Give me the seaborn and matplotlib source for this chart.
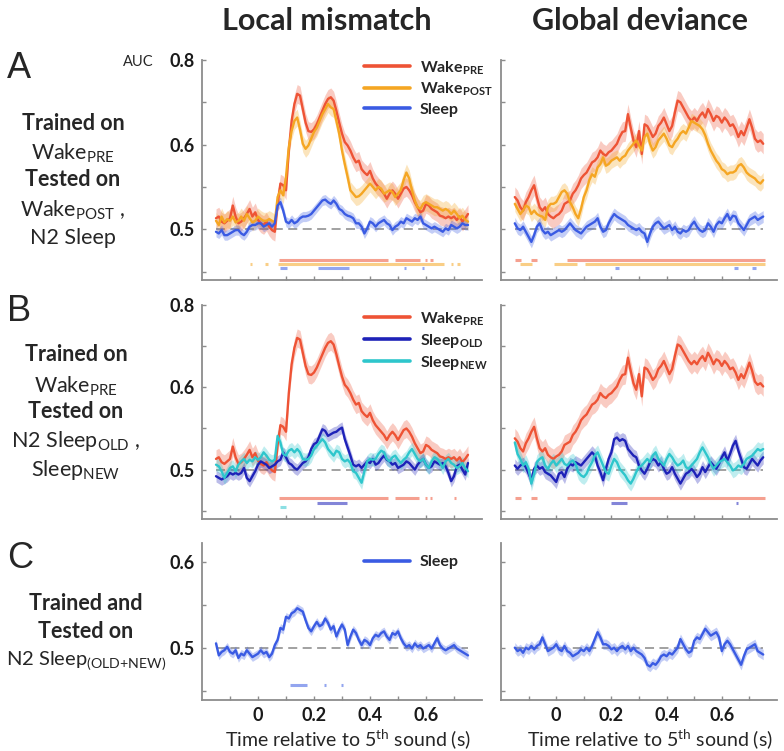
import numpy as np
import matplotlib
matplotlib.use("Agg")
import matplotlib.pyplot as plt
import seaborn as sns

# ---------------- data ----------------
TIME = np.round(np.arange(-0.15, 0.7501, 0.01), 2)

LOCAL_WAKE_PRE = [
    0.513, 0.515, 0.509, 0.507, 0.510, 0.513, 0.528, 0.515, 0.507, 0.509,
    0.513, 0.518, 0.524, 0.515, 0.520,
    0.511, 0.507, 0.505, 0.509, 0.503, 0.499, 0.497, 0.530, 0.554, 0.552,
    0.546, 0.593, 0.628, 0.648, 0.660, 0.658, 0.642, 0.626, 0.616, 0.615,
    0.618, 0.624, 0.632, 0.640, 0.648, 0.654, 0.656, 0.652, 0.640, 0.626,
    0.613, 0.603, 0.599, 0.593, 0.585, 0.579, 0.581, 0.571, 0.567, 0.564,
    0.569, 0.560, 0.554, 0.550, 0.546, 0.542, 0.536, 0.542, 0.546, 0.542,
    0.536, 0.542, 0.548, 0.550, 0.546, 0.540, 0.532, 0.526, 0.520, 0.522,
    0.530, 0.528, 0.524, 0.522, 0.520, 0.516, 0.515, 0.513, 0.515, 0.513,
    0.515, 0.511, 0.515, 0.509, 0.513, 0.518]

LOCAL_WAKE_POST = [
    0.510, 0.505, 0.515, 0.508, 0.512, 0.510, 0.515, 0.508, 0.510, 0.515,
    0.510, 0.518, 0.513, 0.508, 0.510,
    0.515, 0.512, 0.510, 0.510, 0.512, 0.510, 0.508, 0.538, 0.546, 0.540,
    0.562, 0.597, 0.616, 0.628, 0.632, 0.618, 0.601, 0.595, 0.599, 0.607,
    0.615, 0.620, 0.628, 0.636, 0.642, 0.648, 0.644, 0.642, 0.628, 0.613,
    0.593, 0.577, 0.562, 0.546, 0.542, 0.538, 0.539, 0.542, 0.546, 0.550,
    0.554, 0.550, 0.546, 0.550, 0.548, 0.542, 0.544, 0.546, 0.544, 0.538,
    0.542, 0.546, 0.558, 0.567, 0.560, 0.546, 0.534, 0.526, 0.524, 0.530,
    0.532, 0.530, 0.528, 0.526, 0.526, 0.524, 0.522, 0.524, 0.522, 0.518,
    0.522, 0.518, 0.513, 0.516, 0.511, 0.509]

LOCAL_SLEEP = [
    0.497, 0.495, 0.499, 0.493, 0.493, 0.495, 0.497, 0.499, 0.499, 0.495,
    0.493, 0.497, 0.503, 0.505, 0.505,
    0.507, 0.507, 0.503, 0.505, 0.507, 0.503, 0.507, 0.528, 0.532, 0.522,
    0.509, 0.507, 0.511, 0.507, 0.509, 0.513, 0.515, 0.515, 0.516, 0.518,
    0.522, 0.526, 0.530, 0.534, 0.535, 0.532, 0.530, 0.534, 0.530, 0.524,
    0.522, 0.518, 0.516, 0.515, 0.513, 0.507, 0.507, 0.503, 0.495, 0.501,
    0.509, 0.507, 0.503, 0.507, 0.509, 0.511, 0.507, 0.505, 0.499, 0.503,
    0.505, 0.509, 0.507, 0.513, 0.511, 0.509, 0.513, 0.511, 0.515, 0.507,
    0.505, 0.503, 0.501, 0.503, 0.501, 0.499, 0.497, 0.501, 0.499, 0.505,
    0.503, 0.501, 0.503, 0.507, 0.505, 0.505]

GLOBAL_WAKE_PRE = [
    0.538, 0.534, 0.526, 0.522, 0.532, 0.538, 0.546, 0.552, 0.538, 0.526,
    0.522, 0.526, 0.518, 0.515, 0.513,
    0.516, 0.518, 0.522, 0.530, 0.532, 0.534, 0.542, 0.546, 0.552, 0.560,
    0.564, 0.567, 0.573, 0.579, 0.581, 0.585, 0.593, 0.589, 0.587, 0.591,
    0.593, 0.597, 0.601, 0.609, 0.615, 0.616, 0.636, 0.620, 0.605, 0.597,
    0.616, 0.589, 0.624, 0.622, 0.616, 0.609, 0.613, 0.622, 0.626, 0.632,
    0.624, 0.616, 0.622, 0.638, 0.652, 0.650, 0.644, 0.638, 0.632, 0.628,
    0.632, 0.628, 0.634, 0.638, 0.632, 0.642, 0.636, 0.628, 0.634, 0.632,
    0.626, 0.632, 0.628, 0.622, 0.624, 0.618, 0.609, 0.616, 0.611, 0.620,
    0.630, 0.620, 0.607, 0.603, 0.605, 0.601]

GLOBAL_WAKE_POST = [
    0.530, 0.524, 0.518, 0.522, 0.528, 0.526, 0.518, 0.522, 0.518, 0.516,
    0.515, 0.511, 0.526, 0.530, 0.530,
    0.532, 0.538, 0.544, 0.546, 0.542, 0.532, 0.526, 0.518, 0.513, 0.524,
    0.538, 0.546, 0.558, 0.565, 0.562, 0.573, 0.577, 0.585, 0.575, 0.577,
    0.581, 0.583, 0.585, 0.581, 0.585, 0.587, 0.593, 0.597, 0.601, 0.605,
    0.599, 0.593, 0.609, 0.613, 0.601, 0.593, 0.597, 0.605, 0.609, 0.613,
    0.607, 0.599, 0.597, 0.603, 0.607, 0.613, 0.616, 0.613, 0.620, 0.628,
    0.626, 0.624, 0.622, 0.618, 0.611, 0.601, 0.593, 0.587, 0.581, 0.577,
    0.571, 0.569, 0.565, 0.567, 0.567, 0.569, 0.575, 0.577, 0.573, 0.567,
    0.564, 0.562, 0.560, 0.556, 0.554, 0.558]

GLOBAL_SLEEP = [
    0.507, 0.501, 0.499, 0.503, 0.497, 0.491, 0.485, 0.493, 0.503, 0.507,
    0.499, 0.495, 0.497, 0.493, 0.495,
    0.497, 0.499, 0.497, 0.499, 0.503, 0.507, 0.503, 0.499, 0.497, 0.495,
    0.499, 0.503, 0.505, 0.507, 0.509, 0.513, 0.503, 0.497, 0.499, 0.507,
    0.513, 0.518, 0.515, 0.513, 0.511, 0.509, 0.505, 0.503, 0.501, 0.499,
    0.501, 0.497, 0.495, 0.485, 0.495, 0.503, 0.507, 0.509, 0.505, 0.501,
    0.503, 0.505, 0.499, 0.503, 0.497, 0.495, 0.499, 0.497, 0.499, 0.505,
    0.509, 0.503, 0.499, 0.497, 0.499, 0.507, 0.503, 0.497, 0.505, 0.509,
    0.507, 0.513, 0.518, 0.511, 0.516, 0.515, 0.507, 0.503, 0.499, 0.505,
    0.511, 0.513, 0.515, 0.511, 0.513, 0.515]

LOCAL_SLEEP_OLD = [
    0.492, 0.490, 0.488, 0.490, 0.492, 0.496, 0.494, 0.496, 0.494, 0.496,
    0.502, 0.490, 0.486, 0.492, 0.498,
    0.506, 0.510, 0.508, 0.506, 0.502, 0.504, 0.506, 0.510, 0.512, 0.521,
    0.515, 0.508, 0.506, 0.502, 0.500, 0.504, 0.508, 0.510, 0.515, 0.525,
    0.531, 0.533, 0.541, 0.549, 0.547, 0.541, 0.543, 0.545, 0.546, 0.549,
    0.551, 0.537, 0.527, 0.517, 0.506, 0.504, 0.506, 0.502, 0.506, 0.510,
    0.508, 0.513, 0.506, 0.508, 0.513, 0.517, 0.512, 0.510, 0.506, 0.508,
    0.502, 0.504, 0.506, 0.510, 0.508, 0.504, 0.500, 0.506, 0.510, 0.513,
    0.506, 0.502, 0.504, 0.510, 0.508, 0.506, 0.508, 0.504, 0.496, 0.486,
    0.492, 0.504, 0.506, 0.500, 0.494, 0.508]

LOCAL_SLEEP_NEW = [
    0.506, 0.504, 0.498, 0.490, 0.496, 0.502, 0.504, 0.498, 0.506, 0.510,
    0.513, 0.508, 0.512, 0.510, 0.515,
    0.512, 0.515, 0.521, 0.517, 0.512, 0.510, 0.512, 0.541, 0.533, 0.519,
    0.517, 0.523, 0.525, 0.521, 0.525, 0.521, 0.513, 0.512, 0.513, 0.517,
    0.525, 0.529, 0.533, 0.537, 0.533, 0.525, 0.521, 0.517, 0.523, 0.521,
    0.513, 0.510, 0.512, 0.508, 0.498, 0.496, 0.490, 0.484, 0.498, 0.510,
    0.513, 0.512, 0.513, 0.519, 0.523, 0.521, 0.513, 0.510, 0.515, 0.517,
    0.512, 0.508, 0.512, 0.515, 0.521, 0.525, 0.519, 0.513, 0.510, 0.513,
    0.506, 0.502, 0.510, 0.515, 0.513, 0.508, 0.502, 0.510, 0.513, 0.508,
    0.506, 0.502, 0.504, 0.508, 0.502, 0.498]

GLOBAL_SLEEP_OLD = [
    0.505, 0.501, 0.505, 0.507, 0.503, 0.495, 0.487, 0.501, 0.505, 0.501,
    0.503, 0.497, 0.495, 0.493, 0.489,
    0.485, 0.495, 0.497, 0.491, 0.501, 0.507, 0.505, 0.509, 0.507, 0.505,
    0.509, 0.513, 0.517, 0.521, 0.517, 0.505, 0.497, 0.487, 0.501, 0.513,
    0.521, 0.537, 0.539, 0.535, 0.537, 0.535, 0.525, 0.521, 0.517, 0.515,
    0.505, 0.499, 0.495, 0.501, 0.509, 0.513, 0.511, 0.505, 0.509, 0.501,
    0.495, 0.497, 0.503, 0.495, 0.489, 0.483, 0.489, 0.495, 0.497, 0.501,
    0.497, 0.491, 0.495, 0.503, 0.497, 0.503, 0.509, 0.505, 0.501, 0.507,
    0.515, 0.521, 0.511, 0.519, 0.529, 0.535, 0.523, 0.513, 0.503, 0.501,
    0.507, 0.513, 0.509, 0.505, 0.511, 0.515]

GLOBAL_SLEEP_NEW = [
    0.533, 0.519, 0.513, 0.505, 0.509, 0.501, 0.483, 0.495, 0.509, 0.513,
    0.515, 0.505, 0.501, 0.507, 0.511,
    0.505, 0.509, 0.513, 0.507, 0.505, 0.509, 0.511, 0.507, 0.497, 0.493,
    0.491, 0.495, 0.503, 0.509, 0.517, 0.521, 0.513, 0.505, 0.497, 0.495,
    0.505, 0.513, 0.509, 0.501, 0.497, 0.493, 0.487, 0.483, 0.489, 0.497,
    0.503, 0.505, 0.509, 0.513, 0.509, 0.517, 0.521, 0.513, 0.509, 0.505,
    0.513, 0.519, 0.515, 0.509, 0.505, 0.507, 0.511, 0.503, 0.501, 0.505,
    0.509, 0.513, 0.521, 0.527, 0.521, 0.515, 0.507, 0.501, 0.505, 0.509,
    0.511, 0.513, 0.509, 0.505, 0.499, 0.501, 0.505, 0.503, 0.507, 0.513,
    0.515, 0.517, 0.521, 0.525, 0.523, 0.525]

LOCAL_SLEEP_ALL = [
    0.505, 0.491, 0.495, 0.497, 0.501, 0.495, 0.493, 0.497, 0.488, 0.493,
    0.491, 0.497, 0.493, 0.489, 0.491,
    0.493, 0.497, 0.493, 0.495, 0.489, 0.493, 0.503, 0.509, 0.523, 0.521,
    0.536, 0.534, 0.540, 0.542, 0.546, 0.544, 0.542, 0.532, 0.523, 0.519,
    0.525, 0.530, 0.525, 0.527, 0.534, 0.529, 0.521, 0.525, 0.513, 0.521,
    0.527, 0.521, 0.503, 0.513, 0.521, 0.517, 0.509, 0.503, 0.509, 0.507,
    0.503, 0.511, 0.515, 0.513, 0.517, 0.519, 0.513, 0.509, 0.517, 0.515,
    0.519, 0.511, 0.505, 0.501, 0.503, 0.499, 0.505, 0.501, 0.503, 0.499,
    0.501, 0.503, 0.499, 0.505, 0.511, 0.503, 0.499, 0.497, 0.499, 0.501,
    0.503, 0.499, 0.497, 0.495, 0.493, 0.491]

GLOBAL_SLEEP_ALL = [
    0.500, 0.496, 0.498, 0.494, 0.500, 0.498, 0.502, 0.498, 0.502, 0.504,
    0.512, 0.504, 0.496, 0.498, 0.500,
    0.504, 0.498, 0.496, 0.502, 0.496, 0.494, 0.490, 0.492, 0.494, 0.498,
    0.496, 0.500, 0.496, 0.502, 0.510, 0.518, 0.512, 0.504, 0.504, 0.502,
    0.498, 0.500, 0.496, 0.500, 0.502, 0.498, 0.502, 0.496, 0.500, 0.496,
    0.494, 0.492, 0.488, 0.480, 0.478, 0.482, 0.480, 0.484, 0.490, 0.492,
    0.490, 0.494, 0.492, 0.496, 0.500, 0.510, 0.504, 0.498, 0.494, 0.496,
    0.508, 0.512, 0.510, 0.516, 0.522, 0.518, 0.514, 0.516, 0.518, 0.512,
    0.496, 0.504, 0.508, 0.504, 0.498, 0.492, 0.486, 0.480, 0.490, 0.498,
    0.500, 0.502, 0.504, 0.496, 0.494, 0.492]

# standard error (half-width of the shaded band)
SEM = {
    "local_pre": 0.011, "local_post": 0.010, "local_sleep": 0.006,
    "global_pre": 0.012, "global_post": 0.009, "global_sleep": 0.007,
    "local_old": 0.007, "local_new": 0.008,
    "global_old": 0.008, "global_new": 0.009,
    "local_all": 0.005, "global_all": 0.006,
}

# significant time windows (s)
SIG_A_L_PRE = [(0.074, 0.464), (0.488, 0.578), (0.596, 0.604), (0.616, 0.624)]
SIG_A_L_POST = [(-0.028, -0.020), (0.026, 0.034), (0.070, 0.665), (0.688, 0.696), (0.712, 0.720)]
SIG_A_L_SLEEP = [(0.078, 0.104), (0.216, 0.326), (0.520, 0.528), (0.584, 0.592)]
SIG_A_R_PRE = [(-0.150, -0.126), (-0.090, -0.068), (0.040, 0.757)]
SIG_A_R_POST = [(-0.131, -0.086), (-0.009, 0.076), (0.105, 0.757)]
SIG_A_R_SLEEP = [(0.213, 0.229), (0.645, 0.657), (0.709, 0.724)]
SIG_B_L_PRE = [(0.074, 0.464), (0.490, 0.575), (0.596, 0.604), (0.614, 0.622), (0.700, 0.708)]
SIG_B_L_OLD = [(0.210, 0.318)]
SIG_B_L_NEW = [(0.077, 0.100)]
SIG_B_R_PRE = [(-0.150, -0.126), (-0.090, -0.068), (0.040, 0.757)]
SIG_B_R_OLD = [(0.200, 0.256), (0.650, 0.658)]
SIG_C_L_ALL = [(0.113, 0.176), (0.236, 0.244), (0.296, 0.304)]

LBL_PRE = r"Wake$_{\mathregular{PRE}}$"
LBL_POST = r"Wake$_{\mathregular{POST}}$"
LBL_SLEEP = "Sleep"
LBL_OLD = r"Sleep$_{\mathregular{OLD}}$"
LBL_NEW = r"Sleep$_{\mathregular{NEW}}$"
LBL_ALL = r"N2 Sleep$_{\mathregular{(OLD{+}NEW)}}$"

YTICKS_AB = [0.7, 0.6, 0.5]
YTICKLABELS_AB = ["0.8", "0.6", "0.5"]
YTICKS_C = [0.6, 0.5]
YTICKLABELS_C = ["0.6", "0.5"]
XTICKS = [-0.1, 0.0, 0.1, 0.2, 0.3, 0.4, 0.5, 0.6, 0.7]
XTICKLABELS = ["", "0", "", "0.2", "", "0.4", "", "0.6", ""]

COL_TITLES = ["Local mismatch", "Global deviance"]
XLABEL = r"Time relative to 5$^{\mathregular{th}}$ sound (s)"

# ---------------- style ----------------
sns.set_theme(style="ticks")
plt.rcParams["font.family"] = ["Lato", "DejaVu Sans"]

C_PRE = "#EE5335"
C_POST = "#F5A623"
C_SLEEP = "#3A5BE3"
C_OLD = "#1E22B8"
C_NEW = "#2EC6CC"
GREY = "#8C8C8C"

W, H = 784, 751
fig = plt.figure(figsize=(W / 100, H / 100), dpi=100)


def ax_at(x0, y0, x1, y1):
    return fig.add_axes([x0 / W, 1 - y1 / H, (x1 - x0) / W, (y1 - y0) / H])


def ftext(x, y, s, **kw):
    fig.text(x / W, 1 - y / H, s, **kw)


ax_AL = ax_at(202, 60, 482, 280)
ax_AR = ax_at(501, 60, 777, 280)
ax_BL = ax_at(202, 305, 482, 519)
ax_BR = ax_at(501, 305, 777, 519)
ax_CL = ax_at(202, 543, 482, 700)
ax_CR = ax_at(501, 543, 777, 700)


def draw(ax, series, sigs, sig_levels, ylim, yticks, yticklabels, minor, show_y, show_x):
    ax.hlines(0.5, TIME[0], TIME[-1], colors="#9a9a9a", linestyles=(0, (5, 3)), lw=1.3, zorder=1)
    for vals, sem, col, lab in series:
        v = np.asarray(vals)
        ax.fill_between(TIME, v - sem, v + sem, color=col, alpha=0.3, lw=0, zorder=2)
        sns.lineplot(x=TIME, y=v, ax=ax, color=col, lw=1.7, label=lab, zorder=3)
    for segs, lvl, col in zip(sigs, sig_levels, [s[2] for s in series]):
        for a, b in segs:
            ax.plot([a, b], [lvl, lvl], color=col, lw=2.2, alpha=0.55,
                    solid_capstyle="butt", zorder=2)
    ax.set_xlim(-0.2, 0.8)
    ax.set_ylim(*ylim)
    sns.despine(ax=ax)
    for s in ["left", "bottom"]:
        ax.spines[s].set_color(GREY)
        ax.spines[s].set_linewidth(1.3)
    ax.set_yticks(yticks + minor)
    ax.set_yticklabels(yticklabels + [""] * len(minor) if show_y else [])
    ax.set_xticks(XTICKS)
    ax.set_xticklabels(XTICKLABELS if show_x else [])
    ax.tick_params(direction="in", length=3, width=1, color=GREY,
                   labelsize=13, pad=5, labelcolor="#1a1a1a")
    for t in ax.get_xticklabels() + ax.get_yticklabels():
        t.set_fontweight("bold")
    ax.set_xlabel("")
    ax.set_ylabel("")
    leg = ax.get_legend()
    if leg is not None:
        leg.remove()


YL_AB = (0.44, 0.70)
YL_C = (0.439, 0.622)
MIN_AB = [0.65, 0.55, 0.45]
MIN_C = [0.55, 0.45]

draw(ax_AL,
     [(LOCAL_WAKE_PRE, SEM["local_pre"], C_PRE, LBL_PRE),
      (LOCAL_WAKE_POST, SEM["local_post"], C_POST, LBL_POST),
      (LOCAL_SLEEP, SEM["local_sleep"], C_SLEEP, LBL_SLEEP)],
     [SIG_A_L_PRE, SIG_A_L_POST, SIG_A_L_SLEEP], [0.464, 0.4590, 0.4538],
     YL_AB, YTICKS_AB, YTICKLABELS_AB, MIN_AB, True, False)
draw(ax_AR,
     [(GLOBAL_WAKE_PRE, SEM["global_pre"], C_PRE, None),
      (GLOBAL_WAKE_POST, SEM["global_post"], C_POST, None),
      (GLOBAL_SLEEP, SEM["global_sleep"], C_SLEEP, None)],
     [SIG_A_R_PRE, SIG_A_R_POST, SIG_A_R_SLEEP], [0.464, 0.4590, 0.4538],
     YL_AB, YTICKS_AB, YTICKLABELS_AB, MIN_AB, False, False)
draw(ax_BL,
     [(LOCAL_WAKE_PRE, SEM["local_pre"], C_PRE, LBL_PRE),
      (LOCAL_SLEEP_OLD, SEM["local_old"], C_OLD, LBL_OLD),
      (LOCAL_SLEEP_NEW, SEM["local_new"], C_NEW, LBL_NEW)],
     [SIG_B_L_PRE, SIG_B_L_OLD, SIG_B_L_NEW], [0.465, 0.460, 0.455],
     YL_AB, YTICKS_AB, YTICKLABELS_AB, MIN_AB, True, False)
draw(ax_BR,
     [(GLOBAL_WAKE_PRE, SEM["global_pre"], C_PRE, None),
      (GLOBAL_SLEEP_OLD, SEM["global_old"], C_OLD, None),
      (GLOBAL_SLEEP_NEW, SEM["global_new"], C_NEW, None)],
     [SIG_B_R_PRE, SIG_B_R_OLD, []], [0.465, 0.459, 0.455],
     YL_AB, YTICKS_AB, YTICKLABELS_AB, MIN_AB, False, False)
draw(ax_CL,
     [(LOCAL_SLEEP_ALL, SEM["local_all"], C_SLEEP, LBL_SLEEP)],
     [SIG_C_L_ALL], [0.456],
     YL_C, YTICKS_C, YTICKLABELS_C, MIN_C, True, True)
draw(ax_CR,
     [(GLOBAL_SLEEP_ALL, SEM["global_all"], C_SLEEP, None)],
     [[]], [0.456],
     YL_C, YTICKS_C, YTICKLABELS_C, MIN_C, False, True)

# legends
for ax, top in [(ax_AL, 59), (ax_BL, 310), (ax_CL, 555)]:
    h, l = ax.get_legend_handles_labels()
    ax.legend(h, l, loc="upper left", bbox_to_anchor=(364 / W, 1 - top / H),
              bbox_transform=fig.transFigure, frameon=False, borderpad=0,
              borderaxespad=0, handlelength=2.9, handletextpad=0.6,
              labelspacing=0.25, prop={"weight": "bold", "size": 11.5})
    for line in ax.get_legend().get_lines():
        line.set_linewidth(2.6)

# column titles
ftext(327, 21, COL_TITLES[0], ha="center", va="center", fontsize=22, fontweight="bold")
ftext(640, 21, COL_TITLES[1], ha="center", va="center", fontsize=22, fontweight="bold")

# x labels
for xc in (348, 650):
    ftext(xc, 740, XLABEL, ha="center", va="center", fontsize=14)

# AUC label
ftext(138, 62, "AUC", ha="center", va="center", fontsize=10.5)

# panel letters
for lt, yy in (("A", 68), ("B", 311), ("C", 559)):
    ftext(7, yy, lt, ha="left", va="center", fontsize=26,
          family=["Liberation Sans", "DejaVu Sans"])

# left-side descriptions
BLOCK_A = [("Trained on", "bold", 122, 15.5), (LBL_PRE, "normal", 150, 15.5),
           ("Tested on", "bold", 178, 15.5), (LBL_POST + " ,", "normal", 207, 15.5),
           ("N2 Sleep", "normal", 236, 15.5)]
BLOCK_B = [("Trained on", "bold", 353, 15.5), (LBL_PRE, "normal", 383, 15.5),
           ("Tested on", "bold", 410, 15.5), ("N2 " + LBL_OLD + " ,", "normal", 438, 15.5),
           (LBL_NEW, "normal", 467, 15.5)]
BLOCK_C = [("Trained and", "bold", 602, 15.5), ("Tested on", "bold", 630, 15.5),
           (LBL_ALL, "normal", 658, 14.5)]
for block, xc in ((BLOCK_A, 73), (BLOCK_B, 76), (BLOCK_C, 86)):
    for s, wt, yy, fs in block:
        ftext(xc, yy, s, ha="center", va="center_baseline", fontsize=fs, fontweight=wt)

fig.savefig("out.png", dpi=100)
